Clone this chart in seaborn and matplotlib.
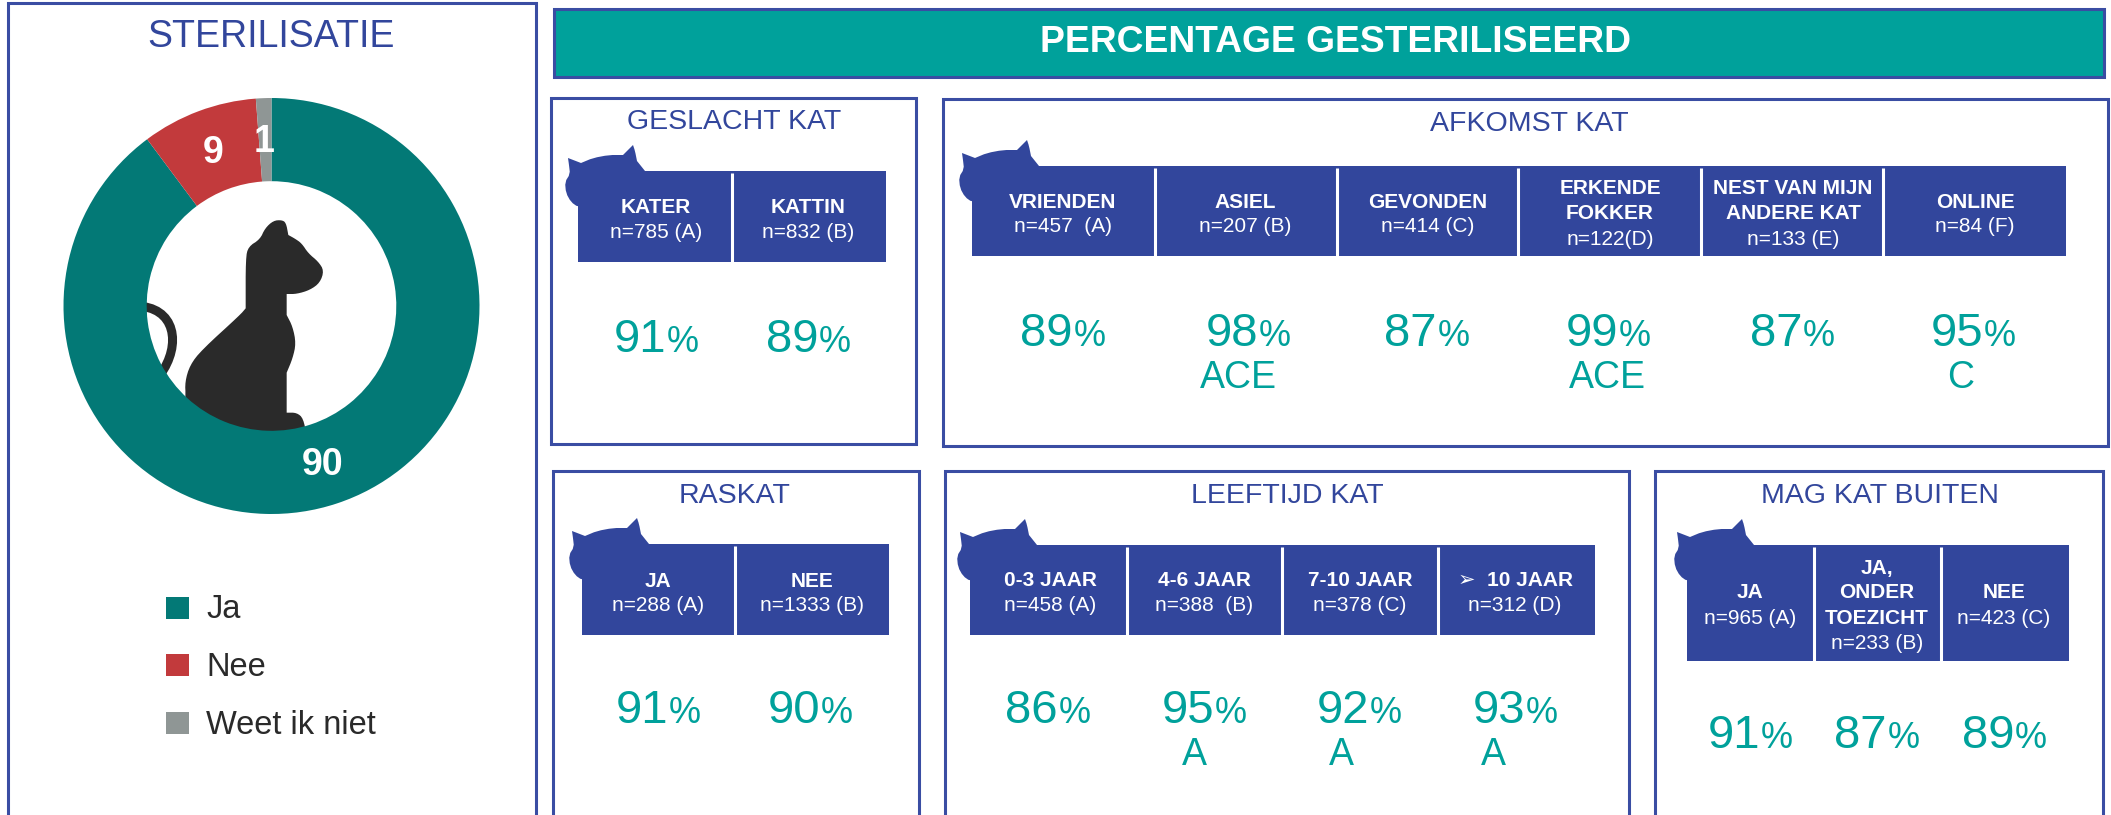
import numpy as np
import matplotlib
matplotlib.use("Agg")
import matplotlib.pyplot as plt
from matplotlib.patches import Rectangle, Circle, Polygon, PathPatch
from matplotlib.path import Path
import seaborn as sns

# ---------- data ----------
donut_labels = ["Ja", "Nee", "Weet ik niet"]
donut_values = [89.8, 9.0, 1.2]
donut_text = ["90", "9", "1"]

main_title = "PERCENTAGE GESTERILISEERD"
donut_title = "STERILISATIE"

geslacht_heads = ["KATER", "KATTIN"]
geslacht_n = ["n=785 (A)", "n=832 (B)"]
geslacht_pct = [91, 89]
geslacht_sig = ["", ""]

afkomst_heads = ["VRIENDEN", "ASIEL", "GEVONDEN", "ERKENDE\nFOKKER", "NEST VAN MIJN\nANDERE KAT", "ONLINE"]
afkomst_n = ["n=457  (A)", "n=207 (B)", "n=414 (C)", "n=122(D)", "n=133 (E)", "n=84 (F)"]
afkomst_pct = [89, 98, 87, 99, 87, 95]
afkomst_sig = ["", "ACE", "", "ACE", "", "C"]

ras_heads = ["JA", "NEE"]
ras_n = ["n=288 (A)", "n=1333 (B)"]
ras_pct = [91, 90]
ras_sig = ["", ""]

leeftijd_heads = ["0-3 JAAR", "4-6 JAAR", "7-10 JAAR", "➢  10 JAAR"]
leeftijd_n = ["n=458 (A)", "n=388  (B)", "n=378 (C)", "n=312 (D)"]
leeftijd_pct = [86, 95, 92, 93]
leeftijd_sig = ["", "A", "A", "A"]

buiten_heads = ["JA", "JA,\nONDER\nTOEZICHT", "NEE"]
buiten_n = ["n=965 (A)", "n=233 (B)", "n=423 (C)"]
buiten_pct = [91, 87, 89]
buiten_sig = ["", "", ""]

# ---------- style ----------
W, H = 2111, 815
BLUE = "#32469C"
EDGE = "#3A4DA3"
TEAL = "#00A19B"
DONUT = ["#037976", "#C23A3C", "#8F9695"]
DARK = "#2A2A2A"
sns.set_theme(style="white")
sns.set_palette(DONUT)
FONT = ["Liberation Sans", "DejaVu Sans"]
plt.rcParams["font.family"] = FONT

fig = plt.figure(figsize=(W / 100, H / 100), dpi=100, facecolor="white")
ax = fig.add_axes([0, 0, 1, 1])
ax.set_xlim(0, W)
ax.set_ylim(H, 0)
ax.axis("off")


def smooth(pts, n=2):
    p = np.asarray(pts, float)
    for _ in range(n):
        q = np.roll(p, -1, axis=0)
        p = np.column_stack([0.75 * p + 0.25 * q, 0.25 * p + 0.75 * q]).reshape(-1, 2)
    return p


def panel(x0, y0, x1, y1, title, tx, ty):
    ax.add_patch(Rectangle((x0, y0), x1 - x0, y1 - y0, fc="white", ec=EDGE, lw=2.2, zorder=1))
    ax.text(tx, ty + 2, title, color=BLUE, fontsize=20.5, ha="center", va="center", zorder=3)


def cat_head(x, y):
    shape = [(30, 40), (0, 36), (-7, 31), (-12, 22), (-13, 11), (-8, 3), (-9, -6), (-10, -13), (-10, -13), (-10, -13),
             (3, -8), (3, -8), (15, -13), (31, -16), (45, -16), (45, -16), (55, -26), (55, -26), (55, -26), (57, -20),
             (59, -10), (59, -10), (67, 0), (67, 0), (67, 20)]
    ax.add_patch(Polygon(smooth(shape, 1) + [x, y], closed=True, fc=BLUE, ec="none", zorder=2))


def header(x0, y0, x1, y1, dividers, heads, ns, centers, head_ys, n_ys):
    cat_head(x0, y0)
    ax.add_patch(Rectangle((x0, y0), x1 - x0, y1 - y0, fc=BLUE, ec="none", zorder=2))
    for d in dividers:
        ax.plot([d, d], [y0 + 2, y1 + 1], color="white", lw=2.2, zorder=3, solid_capstyle="butt")
    for h, n, c, hy, ny in zip(heads, ns, centers, head_ys, n_ys):
        for line, ly in zip(h.split("\n"), hy):
            ax.text(c, ly + 1.5, line, color="white", fontsize=15, fontweight="bold", ha="center", va="center", zorder=4)
        ax.text(c, ny + 1.5, n, color="white", fontsize=15, ha="center", va="center", zorder=4)


def percents(values, sigs, xs, y, sig_xs=None, sig_y=None):
    for i, (v, s, x) in enumerate(zip(values, sigs, xs)):
        ax.text(x + 10, y + 18, f"{v}", color=TEAL, fontsize=34, ha="right", va="baseline", zorder=3)
        ax.text(x + 11, y + 18, "%", color=TEAL, fontsize=26, ha="left", va="baseline", zorder=3)
        if s:
            ax.text(sig_xs[i], sig_y + 13, s, color=TEAL, fontsize=27, ha="center", va="baseline", zorder=3)


# ---------- left panel ----------
ax.add_patch(Rectangle((8, 3), 528, 900, fc="white", ec=EDGE, lw=2.2, zorder=1))
ax.text(271, 37, donut_title, color=BLUE, fontsize=27, ha="center", va="center", zorder=3)

CX, CY, R = 271.5, 306, 208
clip = Circle((CX, CY), 126, transform=ax.transData)
cat_body = np.array([(425, 60), (438, 68), (445, 105), (445, 105), (465, 116), (485, 130), (505, 160), (535, 185), (552, 212),
                     (540, 248), (510, 270), (470, 282), (440, 282), (440, 282), (440, 345), (440, 345), (458, 380), (468, 430),
                     (458, 475), (440, 518), (440, 518), (440, 638), (440, 638), (470, 638), (490, 655), (500, 710),
                     (130, 710), (137, 590), (135, 545), (150, 495), (185, 450), (300, 345), (317, 325), (317, 325),
                     (317, 175), (325, 140), (360, 118), (375, 85), (400, 62)], float) / 3 + [140, 200]
cat = Polygon(smooth(cat_body, 2), closed=True, fc=DARK, ec="none", zorder=2)
ax.add_patch(cat)
cat.set_clip_path(clip)
tail = PathPatch(Path([(135, 306), (176, 306), (182, 345), (160, 375)],
                      [Path.MOVETO, Path.CURVE4, Path.CURVE4, Path.CURVE4]),
                 fc="none", ec=DARK, lw=6.5, zorder=2)
ax.add_patch(tail)
tail.set_clip_path(clip)

pie_ax = fig.add_axes([(CX - R) / W, 1 - (CY + R) / H, 2 * R / W, 2 * R / H])
pie_ax.pie(donut_values, colors=DONUT, startangle=90, counterclock=False, radius=1,
           wedgeprops=dict(width=0.4, linewidth=0))
pie_ax.set_xlim(-1, 1)
pie_ax.set_ylim(-1, 1)
pie_ax.patch.set_alpha(0)

for lab, (lx, ly) in zip(donut_text, [(323, 465), (213, 153), (264, 142)]):
    fig.text(lx / W, 1 - ly / H, lab, color="white", fontsize=27, fontweight="bold", ha="center", va="center", zorder=5)

for lab, col, ly in zip(donut_labels, DONUT, [608, 665, 723]):
    ax.add_patch(Rectangle((166, ly - 11), 23, 22, fc=col, ec="none", zorder=3))
    ax.text(206, ly + 2, lab, color=DARK, fontsize=23.5, ha="left", va="center", zorder=3)

# ---------- banner ----------
ax.add_patch(Rectangle((554, 9), 1550, 68, fc=TEAL, ec=EDGE, lw=2.2, zorder=1))
ax.text(1335, 43, main_title, color="white", fontsize=26.8, fontweight="bold", ha="center", va="center", zorder=3)

# ---------- geslacht ----------
panel(551, 98, 916, 444, "GESLACHT KAT", 734, 120)
header(578, 171, 886, 262, [732], geslacht_heads, geslacht_n, [656, 808], [[206], [206]], [231, 231])
percents(geslacht_pct, geslacht_sig, [656, 808], 334)

# ---------- afkomst ----------
panel(943, 99, 2108, 446, "AFKOMST KAT", 1529, 122)
af_x = [1063, 1245, 1428, 1610, 1793, 1975]
header(972, 166, 2066, 256, [1155, 1337, 1518, 1701, 1883], afkomst_heads, afkomst_n, af_x,
       [[201], [201], [201], [187, 212], [187, 212], [201]], [225, 225, 225, 238, 238, 225])
percents(afkomst_pct, afkomst_sig, [1063, 1248, 1427, 1608, 1792, 1973], 328,
         [0, 1238, 0, 1607, 0, 1961], 375)

# ---------- raskat ----------
panel(553, 471, 919, 900, "RASKAT", 735, 494)
header(582, 544, 889, 635, [735], ras_heads, ras_n, [658, 812], [[580], [580]], [604, 604])
percents(ras_pct, ras_sig, [658, 810], 705)

# ---------- leeftijd ----------
panel(945, 471, 1629, 900, "LEEFTIJD KAT", 1287, 494)
header(970, 545, 1595, 635, [1127, 1282, 1438], leeftijd_heads, leeftijd_n, [1050, 1204, 1360, 1515],
       [[579]] * 4, [604] * 4)
percents(leeftijd_pct, leeftijd_sig, [1048, 1204, 1359, 1515], 705, [0, 1194, 1341, 1493], 752)

# ---------- buiten ----------
panel(1655, 471, 2103, 900, "MAG KAT BUITEN", 1880, 494)
header(1687, 545, 2069, 661, [1814, 1941], buiten_heads, buiten_n, [1750, 1877, 2004],
       [[591], [567, 591, 617], [591]], [617, 642, 617])
percents(buiten_pct, buiten_sig, [1750, 1877, 2004], 730)

fig.savefig("out.png", dpi=100, facecolor="white")
